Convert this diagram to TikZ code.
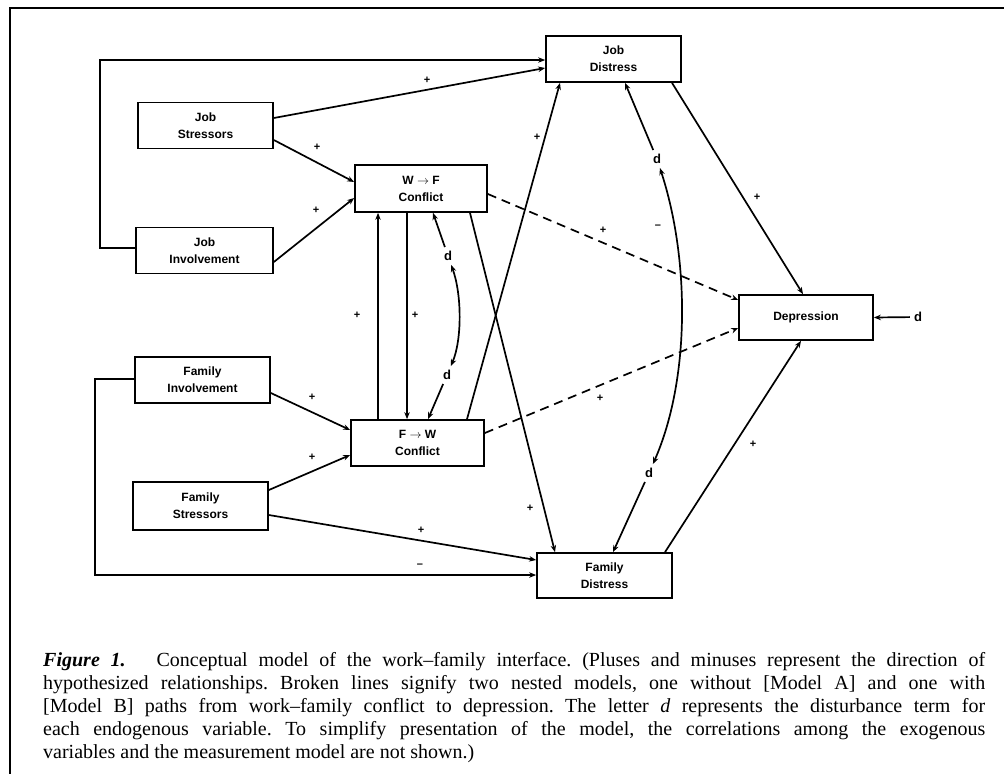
\documentclass[tikz,border=0pt]{standalone}
\usepackage{fontspec}
\setmainfont{Liberation Serif}
\setsansfont{Liberation Sans}
\usetikzlibrary{arrows.meta,calc}
\begin{document}
\begin{tikzpicture}[x=1pt,y=-1pt,
  box/.style={draw,line width=1.7pt,minimum width=135pt,minimum height=46pt,inner sep=0pt,align=center,font=\sffamily\bfseries\fontsize{12}{17}\selectfont},
  conn/.style={line width=1.7pt,-{Stealth[length=7pt,width=5.5pt]}},
  dconn/.style={conn,dash pattern=on 9pt off 6pt},
  dbl/.style={line width=1.7pt,{Stealth[length=7pt,width=5.5pt]}-{Stealth[length=7pt,width=5.5pt]}},
  lbl/.style={font=\sffamily\bfseries\fontsize{11}{12}\selectfont,inner sep=0pt},
  dlbl/.style={font=\sffamily\bfseries\fontsize{13}{13}\selectfont,inner sep=4pt},
  captxt/.style={anchor=base west,inner sep=0pt,font=\frenchspacing\fontsize{20}{23}\selectfont}]
\useasboundingbox (0,0) rectangle (1004,774);
\fill[white] (0,0) rectangle (1004,774);
% frame
\draw[line width=1.6pt] (1004,8) -- (10,8) -- (10,774);

% boxes
\node[box] (JD) at (613.5,59) {Job\\Distress};
\node[box] (JS) at (205.5,125.5) {Job\\Stressors};
\node[box,minimum width=137pt] (JI) at (204.5,250.5) {Job\\Involvement};
\node[box,minimum width=132pt,minimum height=47pt] (WF) at (421,188.5) {W $\rightarrow$ F\\Conflict};
\node[box,minimum width=134pt,minimum height=45pt] (DEP) at (806,317.5) {Depression};
\node[box] (FI) at (202.5,380) {Family\\Involvement};
\node[box,minimum height=48pt] (FS) at (200.5,506) {Family\\Stressors};
\node[box,minimum width=133pt] (FW) at (417.5,443) {F $\rightarrow$ W\\Conflict};
\node[box,minimum height=45pt] (FD) at (604.5,575.5) {Family\\Distress};

% disturbance terms
\node[dlbl] (d1) at (448,256) {d};
\node[dlbl] (d2) at (447,375) {d};
\node[dlbl] (d3) at (657,159) {d};
\node[dlbl] (d4) at (649,473) {d};
\node[dlbl] (dR) at (918,317) {d};

% exogenous paths
\draw[conn] ([yshift=7.5pt]JS.east) -- ([yshift=-9pt]JD.west);
\draw[conn] ([yshift=-14.5pt]JS.east) -- ([yshift=6.5pt]WF.west);
\draw[conn] ([yshift=-11.5pt]JI.east) -- ([yshift=-9.5pt]WF.west);
\draw[conn] ([yshift=2.5pt]JI.west) -- ++(-35,0) |- ([yshift=-1pt]JD.west);
\draw[conn] ([yshift=-13pt]FI.east) -- ([yshift=13pt]FW.west);
\draw[conn] ([yshift=16pt]FS.east) -- ([yshift=-12pt]FW.west);
\draw[conn] ([yshift=-9pt]FS.east) -- ([yshift=15.5pt]FD.west);
\draw[conn] ([yshift=1pt]FI.west) -- ++(-39,0) |- ([yshift=0.5pt]FD.west);

% reciprocal conflict paths
\coordinate (v1) at ([xshift=-39.5pt]FW.north);
\coordinate (v2) at ([xshift=-14pt]WF.south);
\draw[conn] (v1) -- (v1 |- WF.south);
\draw[conn] (v2) -- (v2 |- FW.north);

% cross paths
\draw[conn] ([xshift=49pt]WF.south) -- ([xshift=-49.5pt]FD.north);
\draw[conn] ([xshift=49.5pt]FW.north) -- ([xshift=-53.5pt]JD.south);

% dashed paths
\draw[dconn] ([yshift=-5.5pt]WF.east) -- ([yshift=17.5pt]DEP.west);
\draw[dconn] ([yshift=10pt]FW.east) -- ([yshift=-10.5pt]DEP.west);

% distress to depression
\draw[conn] ([xshift=58.5pt]JD.south) -- ([xshift=-3pt]DEP.north);
\draw[conn] ([xshift=60.5pt]FD.north) -- ([xshift=-5pt]DEP.south);

% disturbances
\draw[conn] (d1) -- ([xshift=12pt]WF.south);
\draw[conn] (d2) -- ([xshift=10.5pt]FW.north);
\draw[conn] (d3) -- ([xshift=11.5pt]JD.south);
\draw[conn] (d4) -- ([xshift=8.5pt]FD.north);
\draw[conn] (dR) -- (DEP.east);
\draw[dbl] (d1) .. controls (462,295) and (462,340) .. (d2);
\draw[dbl] (d3) .. controls (690,260) and (690,380) .. (d4);

% signs
\node[lbl] (p1) at (427,80) {+};
\node[lbl] (p2) at (317,147) {+};
\node[lbl] (p3) at (316,210) {+};
\node[lbl] (p4) at (312,397) {+};
\node[lbl] (p5) at (312,457) {+};
\node[lbl] (p6) at (421,530) {+};
\node[lbl] (m1) at (420,566) {–};
\node[lbl] (p7) at (357,315) {+};
\node[lbl] (p8) at (415,315) {+};
\node[lbl] (p9) at (530,508) {+};
\node[lbl] (p10) at (537,137) {+};
\node[lbl] (p11) at (603,230) {+};
\node[lbl] (p12) at (600,398) {+};
\node[lbl] (p13) at (757,197) {+};
\node[lbl] (p14) at (753,444) {+};
\node[lbl] (m2) at (658,227) {–};

% caption
\node[captxt] (c1) at (43,666) {\makebox[942pt][s]{\textbf{\textit{Figure 1.}}\hspace{1em} Conceptual model of the work–family interface. (Pluses and minuses represent the direction of}};
\node[captxt] (c2) at (43,689) {\makebox[942pt][s]{hypothesized relationships. Broken lines signify two nested models, one without [Model A] and one with}};
\node[captxt] (c3) at (43,712) {\makebox[942pt][s]{[Model B] paths from work–family conflict to depression. The letter \textit{d} represents the disturbance term for}};
\node[captxt] (c4) at (43,735) {\makebox[942pt][s]{each endogenous variable. To simplify presentation of the model, the correlations among the exogenous}};
\node[captxt] (c5) at (43,758) {variables and the measurement model are not shown.)};
\end{tikzpicture}
\end{document}
